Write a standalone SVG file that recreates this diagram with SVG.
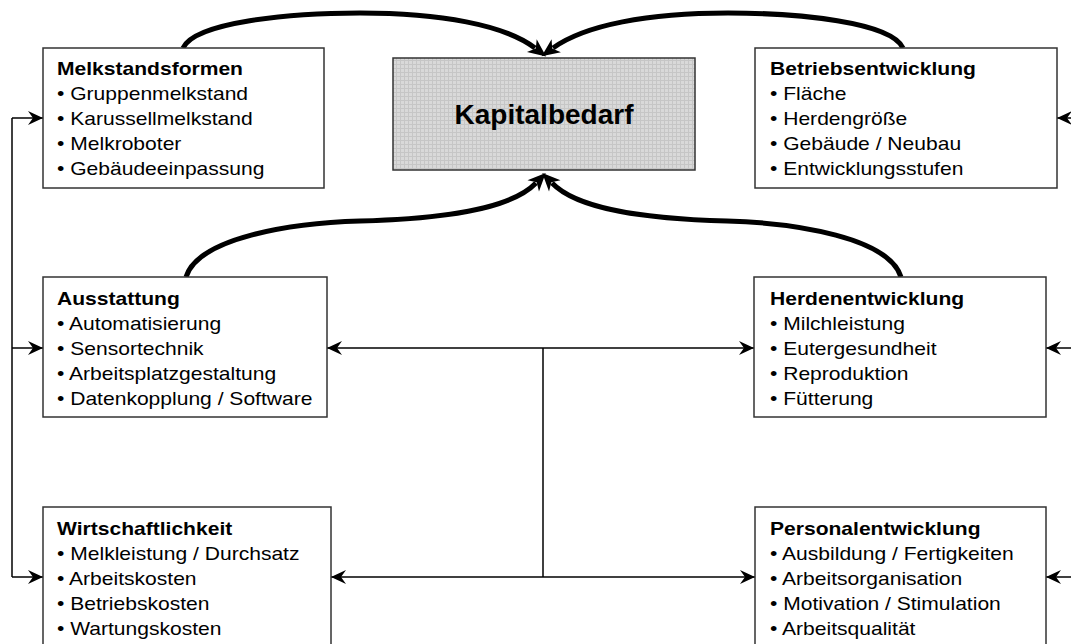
<svg xmlns="http://www.w3.org/2000/svg" width="1071" height="644" viewBox="0 0 1071 644">
<style>
.box{fill:#fff;stroke:#333;stroke-width:1.5}
.t{font-family:"Liberation Sans",Arial,sans-serif;font-size:18px;fill:#000}
.h{font-weight:bold}
.thin{fill:none;stroke:#000;stroke-width:1.5}
.thick{fill:none;stroke:#000;stroke-width:5}
</style>
<defs>
<pattern id="grid" width="4" height="4" patternUnits="userSpaceOnUse">
<rect width="4" height="4" fill="#d9d9d9"/>
<rect width="4" height="1" fill="#c6c6c6"/>
<rect width="1" height="4" fill="#c6c6c6"/>
</pattern>
<marker id="big" markerUnits="userSpaceOnUse" markerWidth="40" markerHeight="40" refX="0" refY="0" viewBox="-20 -20 40 40" orient="auto" overflow="visible">
<path d="M14,0 L-4,-8 L1,0 L-4,8 Z" fill="#000"/>
</marker>
<marker id="sm" markerUnits="userSpaceOnUse" markerWidth="30" markerHeight="30" refX="0" refY="0" viewBox="-15 -15 30 30" orient="auto" overflow="visible">
<path d="M0,0 L-15,-7 L-10,0 L-15,7 Z" fill="#000"/>
</marker>
<marker id="smS" markerUnits="userSpaceOnUse" markerWidth="30" markerHeight="30" refX="0" refY="0" viewBox="-15 -15 30 30" orient="auto-start-reverse" overflow="visible">
<path d="M0,0 L-15,-7 L-10,0 L-15,7 Z" fill="#000"/>
</marker>
</defs>
<rect width="1071" height="644" fill="#fff"/>

<g id="connectors">
<path class="thick" d="M183,48 C195,22 290,13 360,13 C440,13 505,25 535,48" marker-end="url(#big)"/>
<path class="thick" d="M903,48 C891,22 798,13 728,13 C648,13 585,25 553,48" marker-end="url(#big)"/>
<path class="thick" d="M186,277 C198,238 290,223 360,221 C440,219 510,210 536,183" marker-end="url(#big)"/>
<path class="thick" d="M901,277 C889,238 797,223 727,221 C647,219 578,210 552,183" marker-end="url(#big)"/>
<path class="thin" d="M12,577 L12,118"/>
<path class="thin" d="M12,118 L43,118" marker-end="url(#sm)"/>
<path class="thin" d="M12,348 L43,348" marker-end="url(#sm)"/>
<path class="thin" d="M12,577 L43,577" marker-end="url(#sm)"/>
<path class="thin" d="M1072,118 L1057,118" marker-end="url(#sm)"/>
<path class="thin" d="M1072,348 L1046,348" marker-end="url(#sm)"/>
<path class="thin" d="M1072,577 L1046,577" marker-end="url(#sm)"/>
<path class="thin" d="M327,348 L754,348" marker-start="url(#smS)" marker-end="url(#sm)"/>
<path class="thin" d="M331,577 L755,577" marker-start="url(#smS)" marker-end="url(#sm)"/>
<path class="thin" d="M543,348 L543,577"/>
</g>

<g id="kapitalbedarf">
<rect x="393" y="58" width="302" height="112" fill="url(#grid)" stroke="#333" stroke-width="1.5"/>
<text x="544" y="124" text-anchor="middle" class="t h" style="font-size:28px">Kapitalbedarf</text>
</g>

<g id="melkstandsformen">
<rect class="box" x="43" y="48" width="281" height="140"/>
<g transform="translate(57,0) scale(1.17,1)">
<text class="t h" x="0" y="75">Melkstandsformen</text>
<text class="t" x="0" y="100">• Gruppenmelkstand</text>
<text class="t" x="0" y="125">• Karussellmelkstand</text>
<text class="t" x="0" y="150">• Melkroboter</text>
<text class="t" x="0" y="175">• Gebäudeeinpassung</text>
</g>
</g>

<g id="betriebsentwicklung">
<rect class="box" x="755" y="48" width="302" height="140"/>
<g transform="translate(770,0) scale(1.17,1)">
<text class="t h" x="0" y="75">Betriebsentwicklung</text>
<text class="t" x="0" y="100">• Fläche</text>
<text class="t" x="0" y="125">• Herdengröße</text>
<text class="t" x="0" y="150">• Gebäude / Neubau</text>
<text class="t" x="0" y="175">• Entwicklungsstufen</text>
</g>
</g>

<g id="ausstattung">
<rect class="box" x="43" y="277" width="284" height="140"/>
<g transform="translate(57,0) scale(1.17,1)">
<text class="t h" x="0" y="305">Ausstattung</text>
<text class="t" x="0" y="330">• Automatisierung</text>
<text class="t" x="0" y="355">• Sensortechnik</text>
<text class="t" x="0" y="380">• Arbeitsplatzgestaltung</text>
<text class="t" x="0" y="405">• Datenkopplung / Software</text>
</g>
</g>

<g id="herdenentwicklung">
<rect class="box" x="754" y="277" width="292" height="140"/>
<g transform="translate(770,0) scale(1.17,1)">
<text class="t h" x="0" y="305">Herdenentwicklung</text>
<text class="t" x="0" y="330">• Milchleistung</text>
<text class="t" x="0" y="355">• Eutergesundheit</text>
<text class="t" x="0" y="380">• Reproduktion</text>
<text class="t" x="0" y="405">• Fütterung</text>
</g>
</g>

<g id="wirtschaftlichkeit">
<rect class="box" x="43" y="507" width="288" height="145"/>
<g transform="translate(57,0) scale(1.17,1)">
<text class="t h" x="0" y="535">Wirtschaftlichkeit</text>
<text class="t" x="0" y="560">• Melkleistung / Durchsatz</text>
<text class="t" x="0" y="585">• Arbeitskosten</text>
<text class="t" x="0" y="610">• Betriebskosten</text>
<text class="t" x="0" y="635">• Wartungskosten</text>
</g>
</g>

<g id="personalentwicklung">
<rect class="box" x="755" y="507" width="291" height="145"/>
<g transform="translate(770,0) scale(1.17,1)">
<text class="t h" x="0" y="535">Personalentwicklung</text>
<text class="t" x="0" y="560">• Ausbildung / Fertigkeiten</text>
<text class="t" x="0" y="585">• Arbeitsorganisation</text>
<text class="t" x="0" y="610">• Motivation / Stimulation</text>
<text class="t" x="0" y="635">• Arbeitsqualität</text>
</g>
</g>
</svg>
